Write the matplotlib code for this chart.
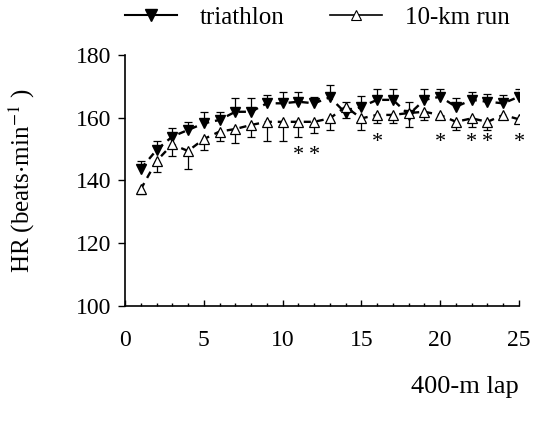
import numpy as np
import matplotlib.pyplot as plt
from matplotlib.ticker import MultipleLocator
from matplotlib.lines import Line2D

plt.rcParams['font.family'] = ['Liberation Serif', 'DejaVu Serif']
plt.rcParams['mathtext.fontset'] = 'stix'

laps = np.arange(1, 26)
tri = [143.7, 149.7, 154.0, 156.1, 158.2, 159.3, 161.9, 161.9, 164.6, 164.6,
       165.1, 164.6, 166.5, 161.5, 163.5, 165.7, 165.7, 161.0, 165.7, 166.7,
       163.5, 165.7, 165.1, 164.6, 166.7]
tri_sd = [2.6, 3.0, 2.6, 2.4, 3.7, 2.4, 4.3, 4.3, 2.7, 3.7,
          3.2, 2.1, 3.9, 1.5, 3.5, 3.3, 3.3, 3.8, 3.3, 2.3,
          2.7, 2.6, 2.6, 2.7, 2.3]
run = [137.2, 146.2, 151.5, 149.4, 153.2, 155.6, 156.4, 157.7, 158.7, 158.7,
       158.7, 158.7, 159.8, 163.5, 159.8, 160.9, 160.9, 161.5, 161.9, 160.9,
       158.7, 159.8, 158.7, 160.9, 159.5]
run_sd = [1.5, 3.4, 3.6, 5.7, 3.5, 2.9, 4.6, 3.7, 6.0, 6.0,
          4.7, 3.5, 3.7, 1.6, 3.7, 2.7, 2.7, 3.6, 2.6, 1.3,
          2.6, 2.6, 2.6, 1.3, 1.3]
sig_laps = [11, 12, 16, 20, 22, 23, 25]
sig_y = [148, 148, 152, 152, 152, 152, 152]

tri = np.array(tri); run = np.array(run)
tri_sd = np.array(tri_sd); run_sd = np.array(run_sd)
# one-sided SD bars, pointing away from the other curve
sign = np.where(run > tri, -1, 1)
tri_end = tri + sign * tri_sd
run_end = run - sign * run_sd

fig = plt.figure(figsize=(5.33, 4.22), dpi=100)
ax = fig.add_axes([0.2345, 0.2749, 0.7392, 0.5948])

for y, yend in [(tri, tri_end), (run, run_end)]:
    ax.vlines(laps, y, yend, color='black', lw=0.9, zorder=2)
    ax.plot(laps, yend, ls='none', marker='_', ms=6, mew=0.9, color='black', zorder=2)

ax.plot(laps, tri, color='black', ls=(0, (3, 2.5)), lw=1.7, marker='v', ms=7.5,
        mfc='black', mec='black', zorder=3)
ax.plot(laps, run, color='black', ls=(0, (3, 2.5)), lw=1.7, marker='^', ms=7.5,
        mfc='white', mec='black', mew=0.9, zorder=3)

for xl, yl in zip(sig_laps, sig_y):
    ax.text(xl, yl, '*', ha='center', va='center', fontsize=16)

ax.set_xlim(0, 25)
ax.set_ylim(100, 180)
ax.xaxis.set_major_locator(MultipleLocator(5))
ax.xaxis.set_minor_locator(MultipleLocator(1))
ax.yaxis.set_major_locator(MultipleLocator(20))
ax.tick_params(axis='x', which='major', direction='in', length=4, width=1,
               labelsize=17, pad=17)
ax.tick_params(axis='x', which='minor', direction='in', length=2.5, width=1)
ax.tick_params(axis='y', which='major', direction='out', length=5, width=1,
               labelsize=17, pad=5)
ax.spines['top'].set_visible(False)
ax.spines['right'].set_visible(False)
for s in ['left', 'bottom']:
    ax.spines[s].set_linewidth(1.2)

ax.set_ylabel(r'HR (beats$\cdot$min$^{-1}$ )', fontsize=18, labelpad=28)
ax.set_xlabel('400-m lap', fontsize=19, loc='right', labelpad=18)

handles = [Line2D([], [], color='black', lw=1.5, marker='v', ms=8, mfc='black'),
           Line2D([], [], color='black', lw=1.2, marker='^', ms=7, mfc='white', mew=0.8)]
fig.legend(handles, ['triathlon', '10-km run'], loc='upper left',
           bbox_to_anchor=(0.2345, 0.985), ncol=2, frameon=False, fontsize=18,
           handlelength=2.1, columnspacing=1.8, handletextpad=0.9,
           borderpad=0, borderaxespad=0)

fig.savefig('out.png', dpi=100)
